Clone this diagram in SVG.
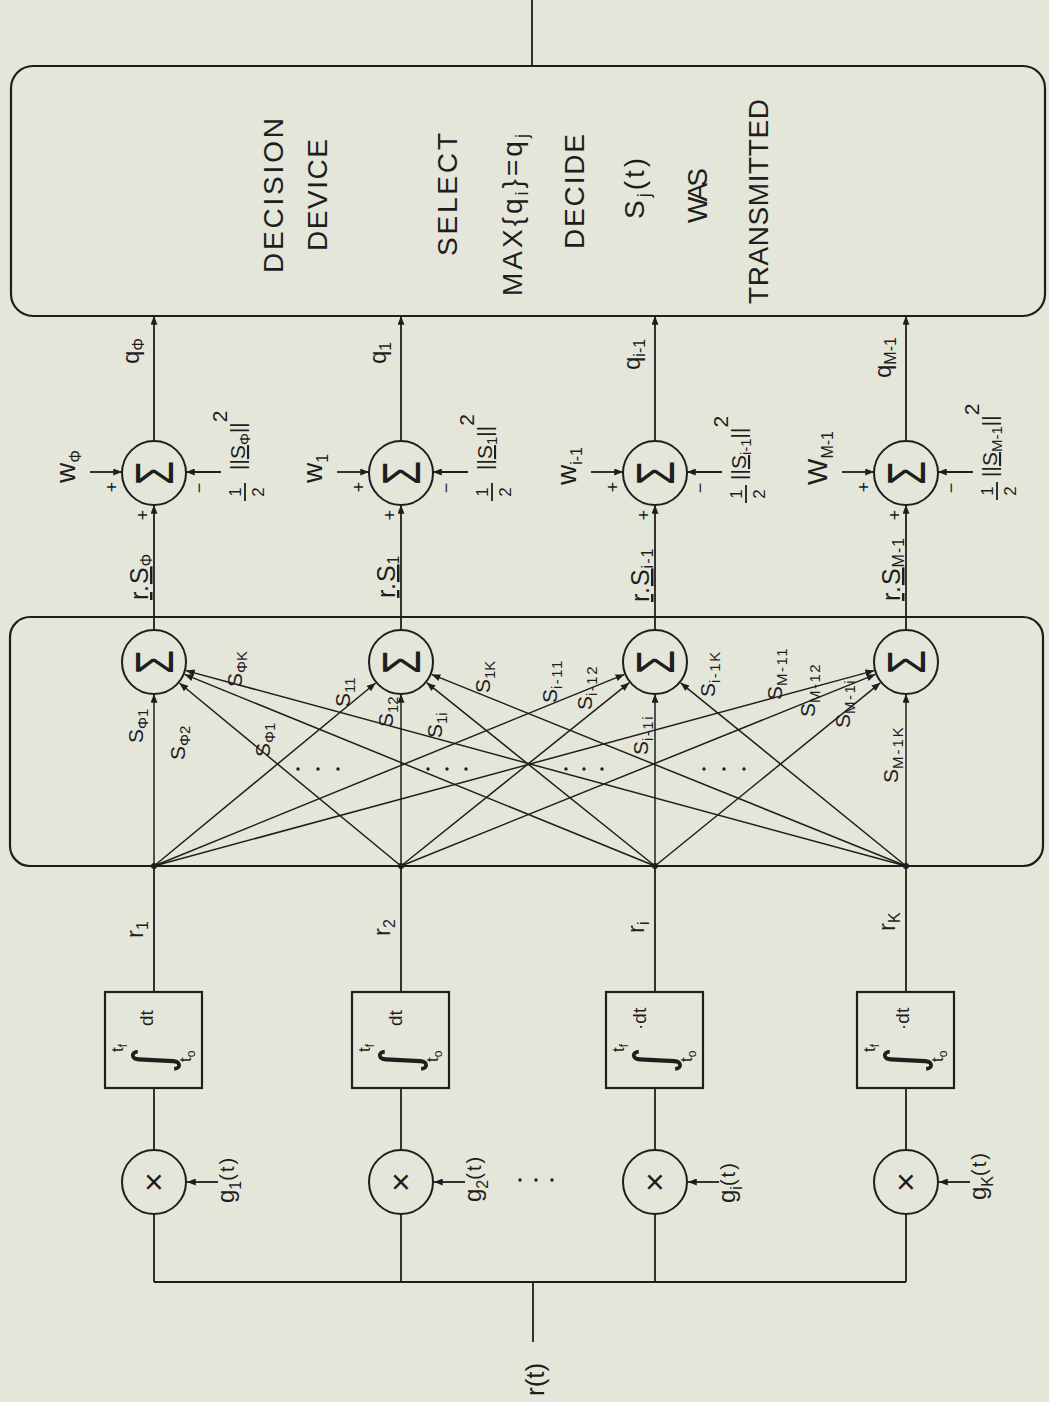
<svg xmlns="http://www.w3.org/2000/svg" width="1049" height="1402" viewBox="0 0 1049 1402">
<defs>
<marker id="ah" viewBox="0 0 10 8" refX="10" refY="4" markerWidth="9" markerHeight="7" markerUnits="userSpaceOnUse" orient="auto"><path d="M0,0 L10,4 L0,8 z" fill="#1e1e1e"/></marker>
<style>
.ln{stroke:#1e1e1e;stroke-width:1.8;fill:none}
.ar{stroke:#1e1e1e;stroke-width:1.8;fill:none;marker-end:url(#ah)}
.dg{stroke:#1e1e1e;stroke-width:1.5;fill:none;marker-end:url(#ah)}
.box{stroke:#1e1e1e;stroke-width:2.2;fill:none}
.cir{stroke:#1e1e1e;stroke-width:2;fill:none}
.dot{fill:#1e1e1e}
text{font-family:"Liberation Sans","DejaVu Sans",Arial,sans-serif;fill:#1e1e1e}
.big{font-size:28px}
.ds{font-size:18px}
.lb{font-size:21px}
.sub{font-size:15px}
.md{font-size:24px}
.ms{font-size:16px}
.sig{font-size:54px}
.int{font-family:"DejaVu Sans",sans-serif;font-size:52px}
.sm{font-size:17px}
.ss{font-size:12px}
.pm{font-size:18px;text-anchor:middle}
.mid{text-anchor:middle}
.ul{text-decoration:underline}
</style>
</defs>
<rect x="0" y="0" width="1049" height="1402" fill="#e5e6da"/>
<g transform="translate(0,1402) rotate(-90)">

<g id="connectors">
<line class="ln" x1="120" y1="154" x2="120" y2="906"/>
<line class="ln" x1="60" y1="533" x2="120" y2="533"/>
<line class="ln" x1="120" y1="154" x2="188" y2="154"/>
<line class="ln" x1="120" y1="401" x2="188" y2="401"/>
<line class="ln" x1="120" y1="655" x2="188" y2="655"/>
<line class="ln" x1="120" y1="906" x2="188" y2="906"/>
<line class="ar" x1="220" y1="218" x2="220" y2="187"/>
<line class="ar" x1="220" y1="465" x2="220" y2="434"/>
<line class="ar" x1="220" y1="719" x2="220" y2="688"/>
<line class="ar" x1="220" y1="970" x2="220" y2="939"/>
<line class="ln" x1="252" y1="154" x2="314" y2="154"/>
<line class="ln" x1="252" y1="401" x2="314" y2="401"/>
<line class="ln" x1="252" y1="655" x2="314" y2="655"/>
<line class="ln" x1="252" y1="906" x2="314" y2="906"/>
<line class="ln" x1="410" y1="154" x2="536" y2="154"/>
<line class="ln" x1="410" y1="401" x2="536" y2="401"/>
<line class="ln" x1="410" y1="655" x2="536" y2="655"/>
<line class="ln" x1="410" y1="906" x2="536" y2="906"/>
<line class="dg" x1="536" y1="154" x2="708" y2="154"/>
<line class="dg" x1="536" y1="154" x2="719" y2="375.6"/>
<line class="dg" x1="536" y1="154" x2="727.6" y2="624.4"/>
<line class="dg" x1="536" y1="154" x2="731.4" y2="874.2"/>
<line class="dg" x1="536" y1="401" x2="719" y2="179.4"/>
<line class="dg" x1="536" y1="401" x2="708" y2="401"/>
<line class="dg" x1="536" y1="401" x2="719.3" y2="629.3"/>
<line class="dg" x1="536" y1="401" x2="727.6" y2="875.4"/>
<line class="dg" x1="536" y1="655" x2="727.6" y2="184.6"/>
<line class="dg" x1="536" y1="655" x2="719.3" y2="426.7"/>
<line class="dg" x1="536" y1="655" x2="708" y2="655"/>
<line class="dg" x1="536" y1="655" x2="719.2" y2="880.4"/>
<line class="dg" x1="536" y1="906" x2="731.4" y2="185.9"/>
<line class="dg" x1="536" y1="906" x2="727.6" y2="431.6"/>
<line class="dg" x1="536" y1="906" x2="719.2" y2="680.6"/>
<line class="dg" x1="536" y1="906" x2="708" y2="906"/>
<line class="ar" x1="772" y1="154" x2="897" y2="154"/>
<line class="ar" x1="772" y1="401" x2="897" y2="401"/>
<line class="ar" x1="772" y1="655" x2="897" y2="655"/>
<line class="ar" x1="772" y1="906" x2="897" y2="906"/>
<line class="ar" x1="930" y1="90" x2="930" y2="122"/>
<line class="ar" x1="930" y1="337" x2="930" y2="369"/>
<line class="ar" x1="930" y1="591" x2="930" y2="623"/>
<line class="ar" x1="930" y1="842" x2="930" y2="874"/>
<line class="ar" x1="930" y1="221" x2="930" y2="186"/>
<line class="ar" x1="930" y1="468" x2="930" y2="433"/>
<line class="ar" x1="930" y1="722" x2="930" y2="687"/>
<line class="ar" x1="930" y1="973" x2="930" y2="938"/>
<line class="ar" x1="961" y1="154" x2="1086" y2="154"/>
<line class="ar" x1="961" y1="401" x2="1086" y2="401"/>
<line class="ar" x1="961" y1="655" x2="1086" y2="655"/>
<line class="ar" x1="961" y1="906" x2="1086" y2="906"/>
<line class="ln" x1="1336" y1="532" x2="1402" y2="532"/>
<circle class="dot" cx="536" cy="154" r="3"/>
<circle class="dot" cx="536" cy="401" r="3"/>
<circle class="dot" cx="536" cy="655" r="3"/>
<circle class="dot" cx="536" cy="906" r="3"/>
</g>

<g id="input">
<text x="6" y="544" style="font-size:26px">r(t)</text>
</g>

<g id="mult1">
<circle class="cir" cx="220" cy="154" r="32"/>
<text class="mid" x="220" y="165" style="font-size:34px">×</text>
<text class="md" x="199" y="234">g<tspan class="ms" dy="7">1</tspan><tspan dy="-7" style="font-size:20px" letter-spacing="2">(t)</tspan></text>
</g>
<g id="mult2">
<circle class="cir" cx="220" cy="401" r="32"/>
<text class="mid" x="220" y="412" style="font-size:34px">×</text>
<text class="md" x="200" y="481">g<tspan class="ms" dy="7">2</tspan><tspan dy="-7" style="font-size:20px" letter-spacing="2">(t)</tspan></text>
</g>
<g id="mult3">
<circle class="cir" cx="220" cy="655" r="32"/>
<text class="mid" x="220" y="666" style="font-size:34px">×</text>
<text class="md" x="199" y="735">g<tspan class="ms" dy="7">i</tspan><tspan dy="-7" style="font-size:20px" letter-spacing="2">(t)</tspan></text>
</g>
<g id="mult4">
<circle class="cir" cx="220" cy="906" r="32"/>
<text class="mid" x="220" y="917" style="font-size:34px">×</text>
<text class="md" x="202" y="986">g<tspan class="ms" dy="7">K</tspan><tspan dy="-7" style="font-size:20px" letter-spacing="2">(t)</tspan></text>
</g>
<g id="dots-mult">
<circle class="dot" cx="222" cy="520" r="1.7"/>
<circle class="dot" cx="222" cy="536" r="1.7"/>
<circle class="dot" cx="222" cy="552" r="1.7"/>
</g>

<g id="int1">
<rect class="box" x="314" y="105" width="96" height="97"/>
<text class="int" x="328" y="170">∫</text>
<text class="sm" x="350" y="123">t<tspan class="ss" dy="4">f</tspan></text>
<text class="sm" x="340" y="191">t<tspan class="ss" dy="4">o</tspan></text>
<text style="font-size:19px" x="376" y="153">dt</text>
</g>
<g id="int2">
<rect class="box" x="314" y="352" width="96" height="97"/>
<text class="int" x="328" y="417">∫</text>
<text class="sm" x="350" y="370">t<tspan class="ss" dy="4">f</tspan></text>
<text class="sm" x="340" y="438">t<tspan class="ss" dy="4">o</tspan></text>
<text style="font-size:19px" x="376" y="402">dt</text>
</g>
<g id="int3">
<rect class="box" x="314" y="606" width="96" height="97"/>
<text class="int" x="328" y="671">∫</text>
<text class="sm" x="350" y="624">t<tspan class="ss" dy="4">f</tspan></text>
<text class="sm" x="340" y="692">t<tspan class="ss" dy="4">o</tspan></text>
<text style="font-size:19px" x="372" y="646">·dt</text>
</g>
<g id="int4">
<rect class="box" x="314" y="857" width="96" height="97"/>
<text class="int" x="328" y="922">∫</text>
<text class="sm" x="350" y="875">t<tspan class="ss" dy="4">f</tspan></text>
<text class="sm" x="340" y="943">t<tspan class="ss" dy="4">o</tspan></text>
<text style="font-size:19px" x="372" y="909">·dt</text>
</g>

<g id="r-labels">
<text class="md" x="464" y="143">r<tspan class="ms" dy="5">1</tspan></text>
<text class="md" x="466" y="390">r<tspan class="ms" dy="5">2</tspan></text>
<text class="md" x="469" y="644">r<tspan class="ms" dy="5">i</tspan></text>
<text class="md" x="471" y="895">r<tspan class="ms" dy="5">K</tspan></text>
</g>

<g id="matrix">
<rect class="box" x="536" y="10" width="249" height="1033" rx="20"/>
<circle class="cir" cx="740" cy="154" r="32"/>
<text class="sig" x="728" y="173" textLength="24" lengthAdjust="spacingAndGlyphs">Σ</text>
<circle class="cir" cx="740" cy="401" r="32"/>
<text class="sig" x="728" y="420" textLength="24" lengthAdjust="spacingAndGlyphs">Σ</text>
<circle class="cir" cx="740" cy="655" r="32"/>
<text class="sig" x="728" y="674" textLength="24" lengthAdjust="spacingAndGlyphs">Σ</text>
<circle class="cir" cx="740" cy="906" r="32"/>
<text class="sig" x="728" y="925" textLength="24" lengthAdjust="spacingAndGlyphs">Σ</text>
<text class="lb" x="659" y="143">S<tspan class="sub" dy="5">Φ1</tspan></text>
<text class="lb" x="642" y="185">S<tspan class="sub" dy="5">Φ2</tspan></text>
<text class="lb" x="645" y="270">S<tspan class="sub" dy="5">Φ1</tspan></text>
<text class="lb" x="715" y="242">S<tspan class="sub" dy="5">ΦK</tspan></text>
<text class="lb" x="695" y="350">S<tspan class="sub" dy="5">11</tspan></text>
<text class="lb" x="675" y="393">S<tspan class="sub" dy="5">12</tspan></text>
<text class="lb" x="664" y="442">S<tspan class="sub" dy="5">1i</tspan></text>
<text class="lb" x="709" y="490">S<tspan class="sub" dy="5">1K</tspan></text>
<text class="lb" x="699" y="557">S<tspan class="sub" dy="5" letter-spacing="1.5">i-11</tspan></text>
<text class="lb" x="692" y="592">S<tspan class="sub" dy="5" letter-spacing="1.5">i-12</tspan></text>
<text class="lb" x="647" y="648">S<tspan class="sub" dy="5" letter-spacing="1.5">i-1i</tspan></text>
<text class="lb" x="705" y="715">S<tspan class="sub" dy="5" letter-spacing="1.5">i-1K</tspan></text>
<text class="lb" x="702" y="782">S<tspan class="sub" dy="5" letter-spacing="1.5">M-11</tspan></text>
<text class="lb" x="685" y="815">S<tspan class="sub" dy="5" letter-spacing="1.5">M-12</tspan></text>
<text class="lb" x="674" y="850">S<tspan class="sub" dy="5" letter-spacing="1.5">M-1i</tspan></text>
<text class="lb" x="619" y="898">S<tspan class="sub" dy="5" letter-spacing="2">M-1K</tspan></text>
<circle class="dot" cx="633" cy="298" r="1.7"/><circle class="dot" cx="633" cy="318" r="1.7"/><circle class="dot" cx="633" cy="338" r="1.7"/>
<circle class="dot" cx="633" cy="428" r="1.7"/><circle class="dot" cx="633" cy="447" r="1.7"/><circle class="dot" cx="633" cy="466" r="1.7"/>
<circle class="dot" cx="633" cy="566" r="1.7"/><circle class="dot" cx="633" cy="584" r="1.7"/><circle class="dot" cx="633" cy="602" r="1.7"/>
<circle class="dot" cx="633" cy="704" r="1.7"/><circle class="dot" cx="633" cy="724" r="1.7"/><circle class="dot" cx="633" cy="744" r="1.7"/>
</g>

<g id="sum0">
<circle class="cir" cx="929" cy="154" r="32"/>
<text class="sig" x="917" y="173" textLength="24" lengthAdjust="spacingAndGlyphs">Σ</text>
<text style="font-size:25px" x="802" y="148" letter-spacing="1"><tspan class="ul">r</tspan>.<tspan class="ul">S</tspan><tspan class="ms" dy="4">Φ</tspan></text>
<text class="pm" x="887" y="149">+</text>
<text class="pm" x="915" y="118">+</text>
<text class="pm" x="914" y="205">−</text>
<text x="919" y="75" style="font-size:28px">w<tspan class="ms" dy="6">Φ</tspan></text>
<text class="md" x="1038" y="139">q<tspan class="ms" dy="5">Φ</tspan></text>
<text class="sm mid" x="910" y="241">1</text>
<line class="ln" x1="901" y1="245" x2="919" y2="245"/>
<text class="sm mid" x="910" y="264">2</text>
<text class="lb" x="932" y="245">||<tspan class="ul">S</tspan><tspan class="sub" dy="5">Φ</tspan><tspan dy="-5">||</tspan><tspan dy="-18">2</tspan></text>
</g>
<g id="sum1">
<circle class="cir" cx="929" cy="401" r="32"/>
<text class="sig" x="917" y="420" textLength="24" lengthAdjust="spacingAndGlyphs">Σ</text>
<text style="font-size:25px" x="804" y="395" letter-spacing="1"><tspan class="ul">r</tspan>.<tspan class="ul">S</tspan><tspan class="ms" dy="4">1</tspan></text>
<text class="pm" x="887" y="396">+</text>
<text class="pm" x="915" y="365">+</text>
<text class="pm" x="914" y="452">−</text>
<text x="919" y="322" style="font-size:28px">w<tspan class="ms" dy="6">1</tspan></text>
<text class="md" x="1038" y="386">q<tspan class="ms" dy="5">1</tspan></text>
<text class="sm mid" x="910" y="488">1</text>
<line class="ln" x1="901" y1="492" x2="919" y2="492"/>
<text class="sm mid" x="910" y="511">2</text>
<text class="lb" x="932" y="492">||<tspan class="ul">S</tspan><tspan class="sub" dy="5">1</tspan><tspan dy="-5">||</tspan><tspan dy="-18">2</tspan></text>
</g>
<g id="sum2">
<circle class="cir" cx="929" cy="655" r="32"/>
<text class="sig" x="917" y="674" textLength="24" lengthAdjust="spacingAndGlyphs">Σ</text>
<text style="font-size:25px" x="800" y="649" letter-spacing="1"><tspan class="ul">r</tspan>.<tspan class="ul">S</tspan><tspan class="ms" dy="4">i-1</tspan></text>
<text class="pm" x="887" y="650">+</text>
<text class="pm" x="915" y="619">+</text>
<text class="pm" x="914" y="706">−</text>
<text x="917" y="576" style="font-size:28px">w<tspan class="ms" dy="6">i-1</tspan></text>
<text class="md" x="1032" y="640">q<tspan class="ms" dy="5">i-1</tspan></text>
<text class="sm mid" x="908" y="742">1</text>
<line class="ln" x1="899" y1="746" x2="917" y2="746"/>
<text class="sm mid" x="908" y="765">2</text>
<text class="lb" x="922" y="746">||<tspan class="ul">S</tspan><tspan class="sub" dy="5">i-1</tspan><tspan dy="-5">||</tspan><tspan dy="-18">2</tspan></text>
</g>
<g id="sum3">
<circle class="cir" cx="929" cy="906" r="32"/>
<text class="sig" x="917" y="925" textLength="24" lengthAdjust="spacingAndGlyphs">Σ</text>
<text style="font-size:25px" x="801" y="900" letter-spacing="1"><tspan class="ul">r</tspan>.<tspan class="ul">S</tspan><tspan class="ms" dy="4">M-1</tspan></text>
<text class="pm" x="887" y="901">+</text>
<text class="pm" x="915" y="870">+</text>
<text class="pm" x="914" y="957">−</text>
<text x="917" y="827" style="font-size:28px">W<tspan class="ms" dy="6">M-1</tspan></text>
<text class="md" x="1024" y="891">q<tspan class="ms" dy="5">M-1</tspan></text>
<text class="sm mid" x="911" y="993">1</text>
<line class="ln" x1="902" y1="997" x2="920" y2="997"/>
<text class="sm mid" x="911" y="1016">2</text>
<text class="lb" x="925" y="997">||<tspan class="ul">S</tspan><tspan class="sub" dy="5">M-1</tspan><tspan dy="-5">||</tspan><tspan dy="-18">2</tspan></text>
</g>

<g id="decision">
<rect class="box" x="1086" y="11" width="250" height="1034" rx="22"/>
<text class="big" x="1129" y="283" textLength="155" lengthAdjust="spacing">DECISION</text>
<text class="big" x="1151" y="327" textLength="112" lengthAdjust="spacing">DEVICE</text>
<text class="big" x="1146" y="457" textLength="123" lengthAdjust="spacing">SELECT</text>
<text class="big" x="1106" y="522" letter-spacing="3">MAX{q<tspan class="ds" dy="6">i</tspan><tspan dy="-6">}=q</tspan><tspan class="ds" dy="6">j</tspan></text>
<text class="big" x="1153" y="584" textLength="115" lengthAdjust="spacing">DECIDE</text>
<text class="big" x="1183" y="644" letter-spacing="3">S<tspan class="ds" dy="6">j</tspan><tspan dy="-6">(t)</tspan></text>
<text class="big" x="1179" y="707" textLength="55" lengthAdjust="spacing">WAS</text>
<text class="big" x="1098" y="768" textLength="205" lengthAdjust="spacing">TRANSMITTED</text>
</g>

</g>
</svg>
